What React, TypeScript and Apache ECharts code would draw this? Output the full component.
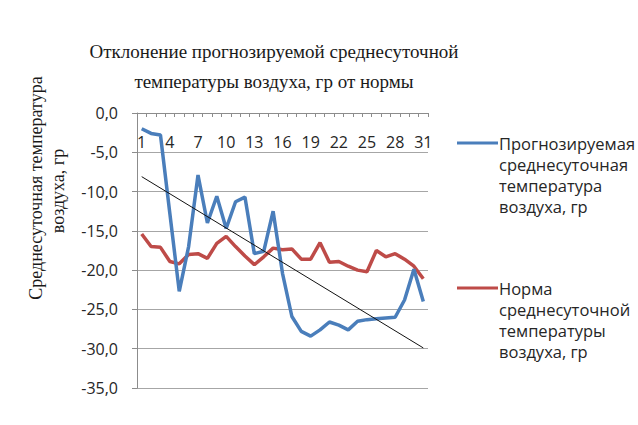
import React, { useEffect, useRef } from "react";
import * as echarts from "echarts";

const days: string[] = Array.from({ length: 31 }, (_, i) => String(i + 1));

const forecast: number[] = [
  -2.0, -2.6, -2.8, -12.8, -22.7, -17.0, -7.9, -14.0, -10.6, -14.7,
  -11.3, -10.7, -17.9, -17.6, -12.5, -20.4, -25.9, -27.8, -28.4, -27.6,
  -26.6, -27.0, -27.6, -26.5, -26.3, -26.2, -26.1, -26.0, -23.8, -19.9,
  -24.0,
];

const norm: number[] = [
  -15.4, -17.0, -17.1, -18.9, -19.2, -18.0, -17.9, -18.5, -16.6, -15.7,
  -17.0, -18.2, -19.3, -18.3, -17.2, -17.4, -17.3, -18.6, -18.6, -16.5,
  -19.0, -18.9, -19.5, -20.0, -20.2, -17.5, -18.3, -17.9, -18.6, -19.5,
  -21.1,
];

const trendDays: string[] = ["1", "31"];
const trendValues: number[] = [-8.1, -29.9];

const titleText = "Отклонение прогнозируемой среднесуточной\nтемпературы воздуха, гр от нормы";
const yNameLines: string[] = ["Среднесуточная температура", "воздуха, гр"];
const legendForecast: string[] = ["Прогнозируемая", "среднесуточная", "температура", "воздуха, гр"];
const legendNorm: string[] = ["Норма", "среднесуточной", "температуры", "воздуха, гр"];

const BLUE = "#4a7ebb";
const RED = "#be4b48";
const SANS = "'Open Sans', 'Noto Sans', sans-serif";
const SERIF = "'Liberation Serif', 'DejaVu Serif', serif";

export default function App() {
  const ref = useRef<HTMLDivElement>(null);

  useEffect(() => {
    if (!ref.current) return;
    const chart = echarts.init(ref.current, undefined, { renderer: "svg" });

    const legendGraphic = (lines: string[], color: string, y0: number) => [
      {
        type: "line",
        shape: { x1: 457, y1: y0, x2: 498, y2: y0 },
        style: { stroke: color, lineWidth: 3 },
      },
      {
        type: "text",
        x: 499,
        y: y0 - 10.5,
        style: {
          text: lines.join("\n"),
          font: `16.5px ${SANS}`,
          fill: "#262626",
          lineHeight: 21,
          textAlign: "left",
          textVerticalAlign: "top",
        },
      },
    ];

    chart.setOption({
      animation: false,
      backgroundColor: "#ffffff",
      title: {
        text: titleText,
        left: 269,
        top: 31,
        textAlign: "center",
        textStyle: {
          fontFamily: SERIF,
          fontSize: 19,
          fontWeight: "normal",
          color: "#1a1a1a",
          lineHeight: 30,
        },
      },
      grid: { left: 137, right: 210, top: 113, bottom: 37, containLabel: false },
      xAxis: {
        type: "category",
        data: days,
        position: "top",
        boundaryGap: true,
        axisLine: { show: true, onZero: false, lineStyle: { color: "#8c8c8c", width: 1 } },
        axisTick: { show: true, inside: true, length: 4, interval: 0, lineStyle: { color: "#8c8c8c" } },
        axisLabel: {
          inside: true,
          interval: 2,
          margin: 21,
          fontFamily: SANS,
          fontSize: 16,
          color: "#262626",
        },
        splitLine: { show: false },
      },
      yAxis: {
        type: "value",
        min: -35,
        max: 0,
        interval: 5,
        axisLine: { show: true, lineStyle: { color: "#8c8c8c", width: 1 } },
        axisTick: { show: true, inside: false, length: 5, lineStyle: { color: "#8c8c8c" } },
        axisLabel: {
          margin: 19,
          fontFamily: SANS,
          fontSize: 16,
          color: "#262626",
          formatter: (v: number) => v.toFixed(1).replace(".", ","),
        },
        splitLine: { show: true, lineStyle: { color: "#a6a6a6", width: 1 } },
      },
      series: [
        {
          name: "Прогнозируемая среднесуточная температура воздуха, гр",
          type: "line",
          data: forecast,
          showSymbol: false,
          lineStyle: { color: BLUE, width: 3.5 },
          itemStyle: { color: BLUE },
          z: 3,
        },
        {
          name: "Норма среднесуточной температуры воздуха, гр",
          type: "line",
          data: norm,
          showSymbol: false,
          lineStyle: { color: RED, width: 3.5 },
          itemStyle: { color: RED },
          z: 2,
        },
        {
          name: "Линейная",
          type: "line",
          data: trendDays.map((d, i) => [d, trendValues[i]]),
          showSymbol: false,
          lineStyle: { color: "#111111", width: 1 },
          itemStyle: { color: "#111111" },
          z: 4,
        },
      ],
      graphic: [
        {
          type: "text",
          x: 36,
          y: 188,
          rotation: Math.PI / 2,
          style: {
            text: yNameLines[0],
            font: `18px ${SERIF}`,
            fill: "#1a1a1a",
            textAlign: "center",
            textVerticalAlign: "middle",
          },
        },
        {
          type: "text",
          x: 58,
          y: 191,
          rotation: Math.PI / 2,
          style: {
            text: yNameLines[1],
            font: `18px ${SERIF}`,
            fill: "#1a1a1a",
            textAlign: "center",
            textVerticalAlign: "middle",
          },
        },
        ...legendGraphic(legendForecast, BLUE, 143),
        ...legendGraphic(legendNorm, RED, 288),
      ],
    });

    return () => chart.dispose();
  }, []);

  return (
    <div
      ref={ref}
      style={{ position: "absolute", left: 0, top: 0, width: 638, height: 425 }}
    />
  );
}
